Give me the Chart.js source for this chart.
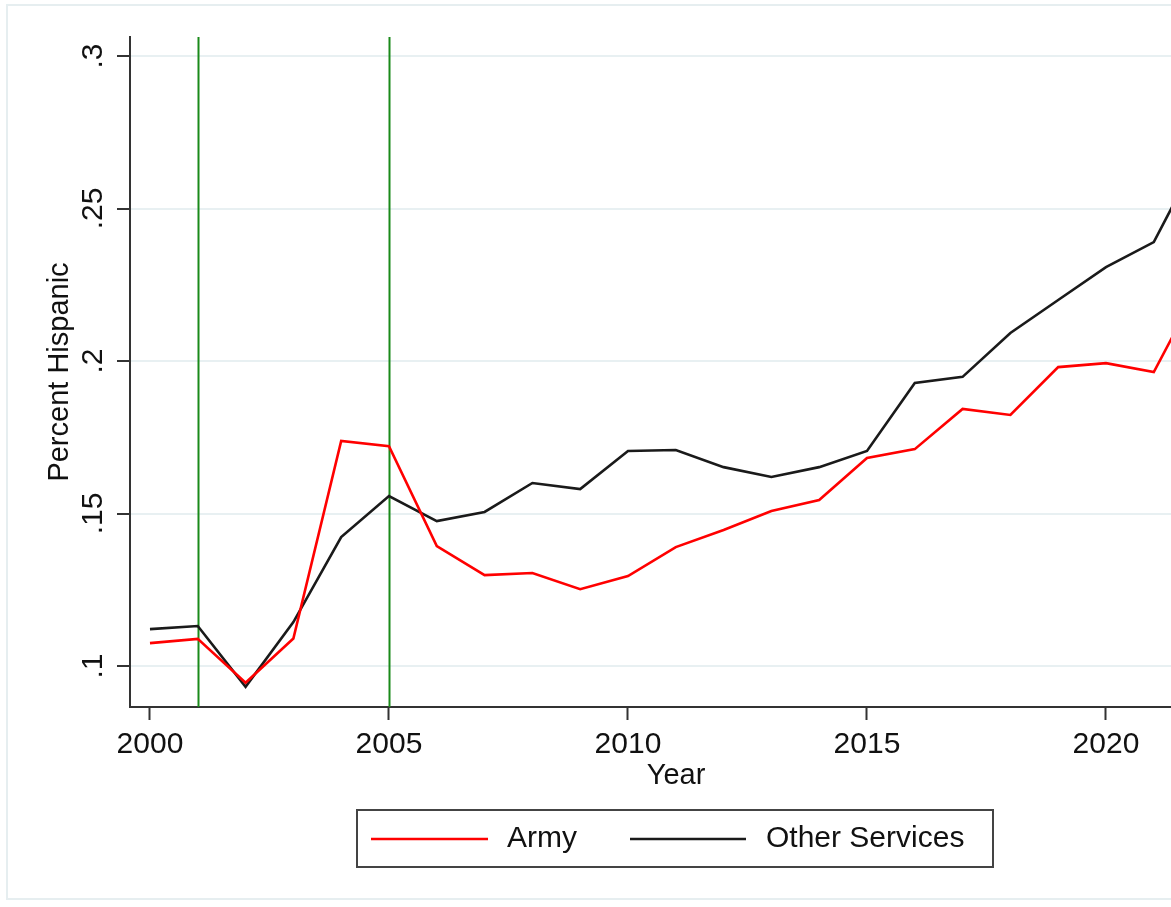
<!DOCTYPE html>
<html>
<head>
<meta charset="utf-8">
<title>Percent Hispanic, Army vs Other Services</title>
<script src="https://cdn.jsdelivr.net/npm/chart.js@4/dist/chart.umd.min.js"></script>
<style>
  html, body { margin: 0; padding: 0; background: #fff; overflow: hidden; }
  canvas { display: block; }
</style>
</head>
<body>
<canvas id="hisp" width="1171" height="907"></canvas>
<script>
// series data
var years = [2000, 2001, 2002, 2003, 2004, 2005, 2006, 2007, 2008, 2009, 2010, 2011,
             2012, 2013, 2014, 2015, 2016, 2017, 2018, 2019, 2020, 2021, 2022];
var army  = [.1075, .1089, .0945, .1090, .1738, .1721, .1393, .1298, .1305, .1252, .1295, .1390,
             .1446, .1508, .1544, .1682, .1711, .1843, .1823, .1980, .1993, .1964, .2260];
var other = [.1121, .1131, .0932, .1144, .1423, .1557, .1475, .1505, .1600, .1580, .1705, .1708,
             .1652, .1620, .1652, .1705, .1928, .1948, .2092, .2200, .2308, .2390, .2690];
var seriesNames = ['Army', 'Other Services'];

// axis ticks and reference lines
var xTicks = [2000, 2005, 2010, 2015, 2020];
var yTicks = [.1, .15, .2, .25, .3];
var yTickLabels = ['.1', '.15', '.2', '.25', '.3'];
var vlineYears = [2001, 2005];

var FONT = "'Liberation Sans', Arial, sans-serif";

function pts(vals){
    return years.map(function(y, i){ return { x: y, y: vals[i] }; });
}

// light outer frame + vertical reference lines behind the series
var backdrop = {
    id: 'backdrop',
    beforeDraw: function(chart){
        var ctx = chart.ctx;
        ctx.save();
        ctx.fillStyle = '#fff';
        ctx.fillRect(0, 0, chart.width, chart.height);
        ctx.strokeStyle = '#e6eef0';
        ctx.lineWidth = 2;
        ctx.strokeRect(7, 5, chart.width + 20, 894);
        ctx.restore();
    },
    beforeDatasetsDraw: function(chart){
        var ctx = chart.ctx, a = chart.chartArea, xs = chart.scales.x;
        ctx.save();
        ctx.strokeStyle = '#1a8a1a';
        ctx.lineWidth = 2;
        vlineYears.forEach(function(yr){
            var px = Math.round(xs.getPixelForValue(yr)) + 0.5;
            ctx.beginPath();
            ctx.moveTo(px, a.top);
            ctx.lineTo(px, a.bottom);
            ctx.stroke();
        });
        ctx.restore();
    }
};

// x title and boxed legend, centred on the full graph width
var bottomText = {
    id: 'bottomText',
    afterDraw: function(chart){
        var ctx = chart.ctx;
        var cx = 676;
        ctx.save();
        ctx.fillStyle = '#111';
        ctx.font = '29px ' + FONT;
        ctx.textAlign = 'center';
        ctx.textBaseline = 'middle';
        ctx.fillText('Year', cx, 776);

        // legend box
        ctx.fillStyle = '#fff';
        ctx.fillRect(357, 810, 636, 57);
        ctx.strokeStyle = '#444';
        ctx.lineWidth = 2;
        ctx.strokeRect(357, 810, 636, 57);

        var ly = 839;
        var items = [
            { x0: 371, x1: 488, tx: 507 },
            { x0: 630, x1: 746, tx: 766 }
        ];
        ctx.font = '30px ' + FONT;
        chart.data.datasets.forEach(function(ds, i){
            var it = items[i];
            ctx.strokeStyle = ds.borderColor;
            ctx.lineWidth = 2.5;
            ctx.beginPath();
            ctx.moveTo(it.x0, ly);
            ctx.lineTo(it.x1, ly);
            ctx.stroke();
            ctx.fillStyle = '#111';
            ctx.textAlign = 'left';
            ctx.fillText(ds.label, it.tx, ly);
        });
        ctx.restore();
    }
};

var ctx = document.getElementById('hisp').getContext('2d');
new Chart(ctx, {
    type: 'line',
    data: {
        datasets: [
            { label: seriesNames[0], data: pts(army),  borderColor: '#ff0000', borderWidth: 2.6,
              pointRadius: 0, tension: 0, fill: false },
            { label: seriesNames[1], data: pts(other), borderColor: '#1a1a1a', borderWidth: 2.6,
              pointRadius: 0, tension: 0, fill: false }
        ]
    },
    options: {
        responsive: false,
        animation: false,
        layout: { padding: { top: 37, right: 0, bottom: 0, left: 0 } },
        plugins: { legend: { display: false }, tooltip: { enabled: false } },
        scales: {
            x: {
                type: 'linear',
                min: 1999.582,
                max: 2021.36,
                afterBuildTicks: function(s){ s.ticks = xTicks.map(function(v){ return { value: v }; }); },
                afterFit: function(s){ s.height = 200; },
                grid: { drawOnChartArea: false, drawTicks: true, tickLength: 13, tickColor: '#333', tickWidth: 2 },
                border: { display: true, color: '#333', width: 2 },
                ticks: { color: '#111', padding: 7, font: { family: FONT, size: 30 },
                         maxRotation: 0, minRotation: 0,
                         callback: function(v){ return String(v); } }
            },
            y: {
                min: 0.08656,
                max: 0.30623,
                afterBuildTicks: function(s){ s.ticks = yTicks.map(function(v){ return { value: v }; }); },
                afterFit: function(s){ s.width = 130; },
                grid: { color: '#e8f0f2', lineWidth: 2, drawTicks: true, tickLength: 13, tickColor: '#333', tickWidth: 2 },
                border: { display: true, color: '#333', width: 2 },
                ticks: {
                    color: '#111', padding: 2, crossAlign: 'center',
                    minRotation: 90, maxRotation: 90,
                    font: { family: FONT, size: 30 },
                    callback: function(v){
                        var i = yTicks.indexOf(v);
                        return i >= 0 ? yTickLabels[i] : '';
                    }
                },
                title: { display: true, text: 'Percent Hispanic', color: '#111',
                         font: { family: FONT, size: 29 }, padding: { top: 43, bottom: 0 } }
            }
        }
    },
    plugins: [backdrop, bottomText]
});
</script>
</body>
</html>
